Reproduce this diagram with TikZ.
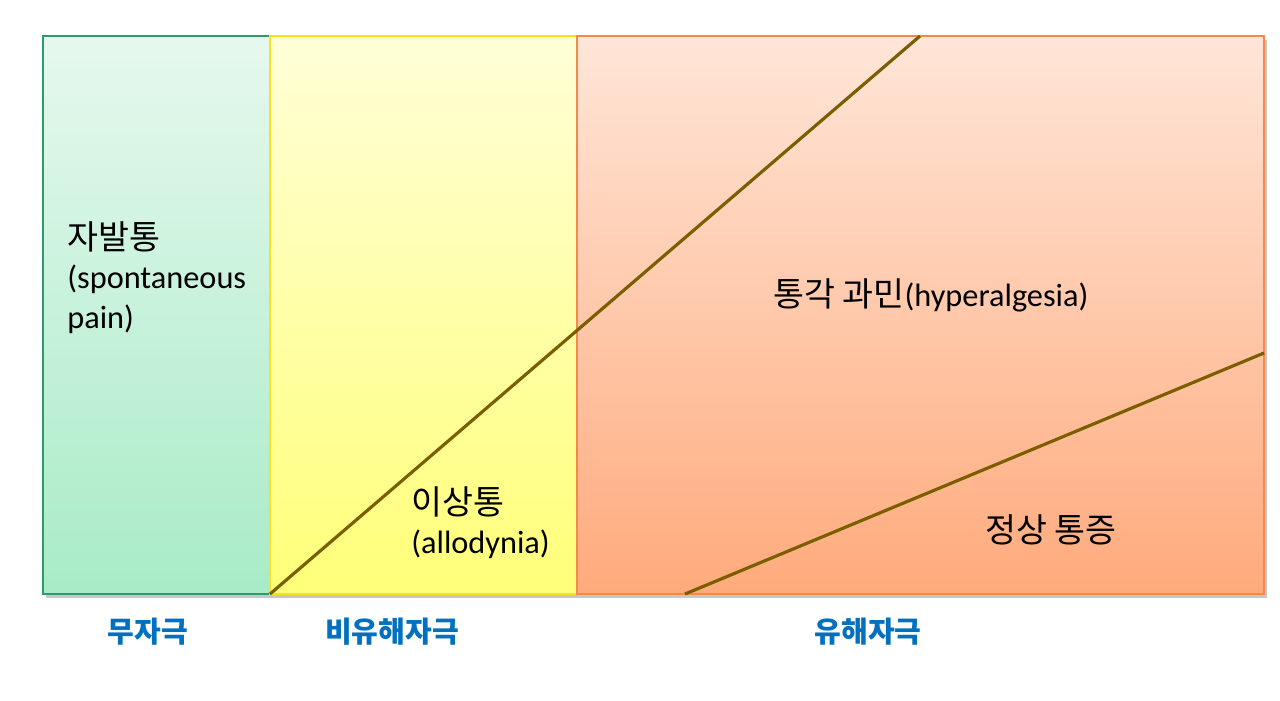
\documentclass[tikz,border=0pt]{standalone}
\usepackage{fontspec}
\setmainfont{Carlito}
\newfontfamily\kr[Scale=1.04]{Noto Sans CJK KR}
\usetikzlibrary{shadows,positioning}
\definecolor{calmtop}{HTML}{E6F8EE}
\definecolor{calmbot}{HTML}{A8EBC7}
\definecolor{calmline}{HTML}{2E9B6E}
\definecolor{softtop}{HTML}{FFFFD8}
\definecolor{softbot}{HTML}{FFFF78}
\definecolor{softline}{HTML}{FFDD22}
\definecolor{hurttop}{HTML}{FFE6D8}
\definecolor{hurtbot}{HTML}{FFAA7C}
\definecolor{hurtline}{HTML}{F5894A}
\definecolor{slopeclr}{HTML}{7A5E00}
\definecolor{stimblue}{HTML}{0070C0}
\begin{document}
\begin{tikzpicture}[x=0.02cm,y=-0.02cm,
    every node/.append style={inner sep=0pt},
    panel/.style={line width=1.4pt,
      drop shadow={shadow xshift=1.5pt,shadow yshift=-2.5pt,opacity=.45}},
    slope/.style={draw=slopeclr,line width=1.8pt},
    bigtext/.style={font=\fontsize{18.4}{22.6}\selectfont,align=left},
    stim/.style={font=\kr\fontsize{15.9}{18}\selectfont\bfseries,text=stimblue}]
    \useasboundingbox (0,0) rectangle (1280,700);
    % three stimulus zones
    \draw[panel,top color=calmtop,bottom color=calmbot,draw=calmline] (43,36) rectangle (270,594);
    \draw[panel,top color=softtop,bottom color=softbot,draw=softline] (270,36) rectangle (577,594);
    \draw[panel,top color=hurttop,bottom color=hurtbot,draw=hurtline] (577,36) rectangle (1264,594);
    % pain curves
    \coordinate (allo0) at (270,594);
    \coordinate (allo1) at (920,36);
    \coordinate (norm0) at (685,594);
    \coordinate (norm1) at (1264,353);
    \draw[slope] (allo0) -- (allo1);
    \draw[slope] (norm0) -- (norm1);
    % texts inside
    \node[bigtext,anchor=north west] (spont) at (67,221) {{\kr 자발통}\\(spontaneous\\pain)};
    \node[bigtext,anchor=north west] (allo) at (411,486) {{\kr 이상통}\\(allodynia)};
    \node[bigtext,anchor=west] (hyper) at (773,295) {{\kr 통각 과민}(hyperalgesia)};
    \node[bigtext] (normal) at (1051,530) {\kr 정상 통증};
    % stimulus labels
    \node[stim] (none) at (148,632) {무자극};
    \node[stim] (mild) at (392,632) {비유해자극};
    \node[stim] (noxious) at (868,632) {유해자극};
\end{tikzpicture}
\end{document}
